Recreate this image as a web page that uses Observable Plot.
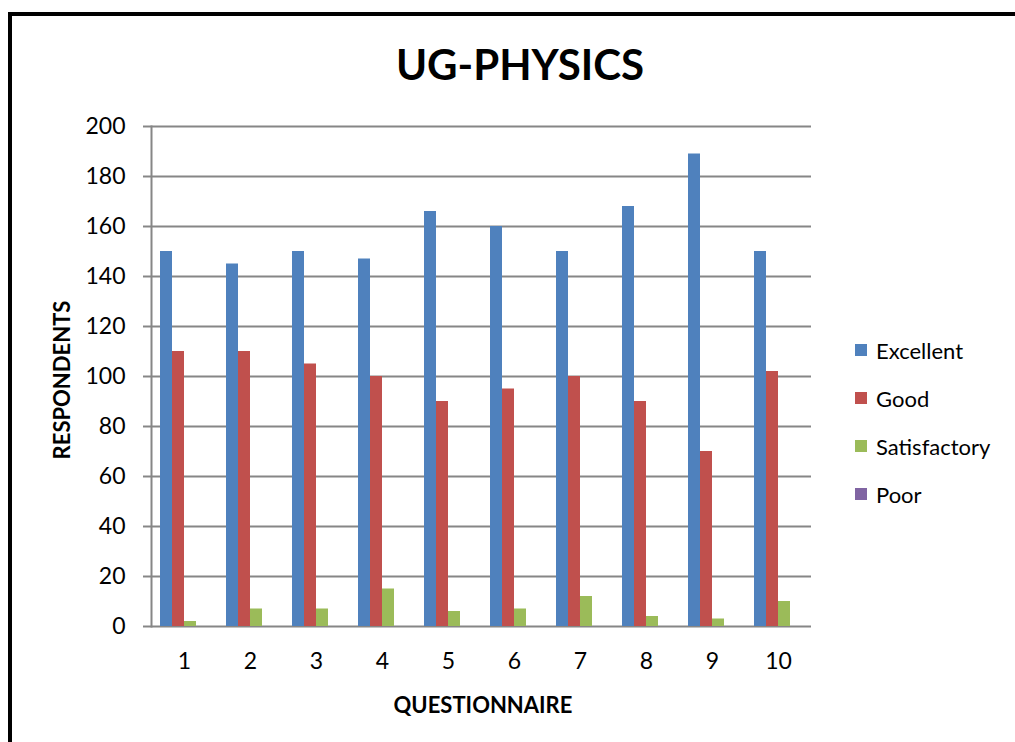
<!DOCTYPE html>
<html><head><meta charset="utf-8">
<script src="https://cdn.jsdelivr.net/npm/d3@7"></script>
<script src="https://cdn.jsdelivr.net/npm/@observablehq/plot@0.6"></script>
<style>
body{margin:0;background:#fff;font-family:Lato,"Open Sans",sans-serif;}
#wrap{position:relative;width:1015px;height:742px;overflow:hidden;background:#fff;}
#frame{position:absolute;left:8px;top:12px;width:1100px;height:800px;border-left:4px solid #000;border-top:4px solid #000;box-sizing:border-box;}
#chart{position:absolute;left:0;top:0;}
#title{position:absolute;left:0;width:1040px;top:39px;text-align:center;font-weight:700;font-size:42px;color:#000;}
#ylab{position:absolute;left:61px;top:380px;transform:translate(-50%,-50%) rotate(-90deg);font-weight:700;font-size:22px;white-space:nowrap;}
#xlab{position:absolute;left:483px;top:704px;transform:translate(-50%,-50%);font-weight:700;font-size:22px;white-space:nowrap;}
#legend{position:absolute;left:855px;top:326px;}
.li{display:flex;align-items:center;height:48px;font-size:22px;}
.sw{width:12px;height:12px;margin-right:9px;}
</style></head>
<body>
<div id="wrap">
  <div id="frame"></div>
  <div id="chart"></div>
  <div id="title">UG-PHYSICS</div>
  <div id="ylab">RESPONDENTS</div>
  <div id="xlab">QUESTIONNAIRE</div>
  <div id="legend"></div>
</div>
<script>
const questions = [1, 2, 3, 4, 5, 6, 7, 8, 9, 10];
const series = ["Excellent", "Good", "Satisfactory", "Poor"];
const excellent = [150, 145, 150, 147, 166, 160, 150, 168, 189, 150];
const good = [110, 110, 105, 100, 90, 95, 100, 90, 70, 102];
const satisfactory = [2, 7, 7, 15, 6, 7, 12, 4, 3, 10];
const poor = [0, 0, 0, 0, 0, 0, 0, 0, 0, 0];
const colors = ["#4F81BD", "#C0504D", "#9BBB59", "#8064A2"];
const yTicks = [0, 20, 40, 60, 80, 100, 120, 140, 160, 180, 200];

const valuesBySeries = [excellent, good, satisfactory, poor];
const data = questions.flatMap((q, i) => series.map((s, j) => ({q, s, v: valuesBySeries[j][i]})));

const plot = Plot.plot({
  width: 1015,
  height: 742,
  marginLeft: 150,
  marginRight: 204,
  marginTop: 126,
  marginBottom: 116,
  style: {fontFamily: "Lato, 'Open Sans', sans-serif", background: "transparent", color: "#000"},
  fx: {domain: questions, padding: 0, label: null, axis: null},
  x: {domain: series, paddingInner: 0, paddingOuter: 0.75, axis: null},
  y: {domain: [0, 200], ticks: yTicks, label: null},
  color: {domain: series, range: colors},
  marks: [
    Plot.gridY(yTicks, {stroke: "#868686", strokeOpacity: 1, strokeWidth: 2}),
    Plot.frame({anchor: "left", facetAnchor: "left", stroke: "#868686", strokeWidth: 2}),
    Plot.barY(data, {fx: "q", x: "s", y: "v", fill: "s"}),
    Plot.axisY(yTicks, {tickSize: 8, tickPadding: 18, stroke: "#868686", strokeWidth: 2, fontSize: 23, label: null}),
    Plot.axisFx({anchor: "bottom", tickSize: 0, tickPadding: 26, fontSize: 23, label: null})
  ]
});
document.getElementById("chart").appendChild(plot);

const legend = document.getElementById("legend");
series.forEach((s, i) => {
  const row = document.createElement("div");
  row.className = "li";
  const sw = document.createElement("div");
  sw.className = "sw";
  sw.style.background = colors[i];
  const t = document.createElement("span");
  t.textContent = s;
  row.appendChild(sw);
  row.appendChild(t);
  legend.appendChild(row);
});
</script>
</body></html>
